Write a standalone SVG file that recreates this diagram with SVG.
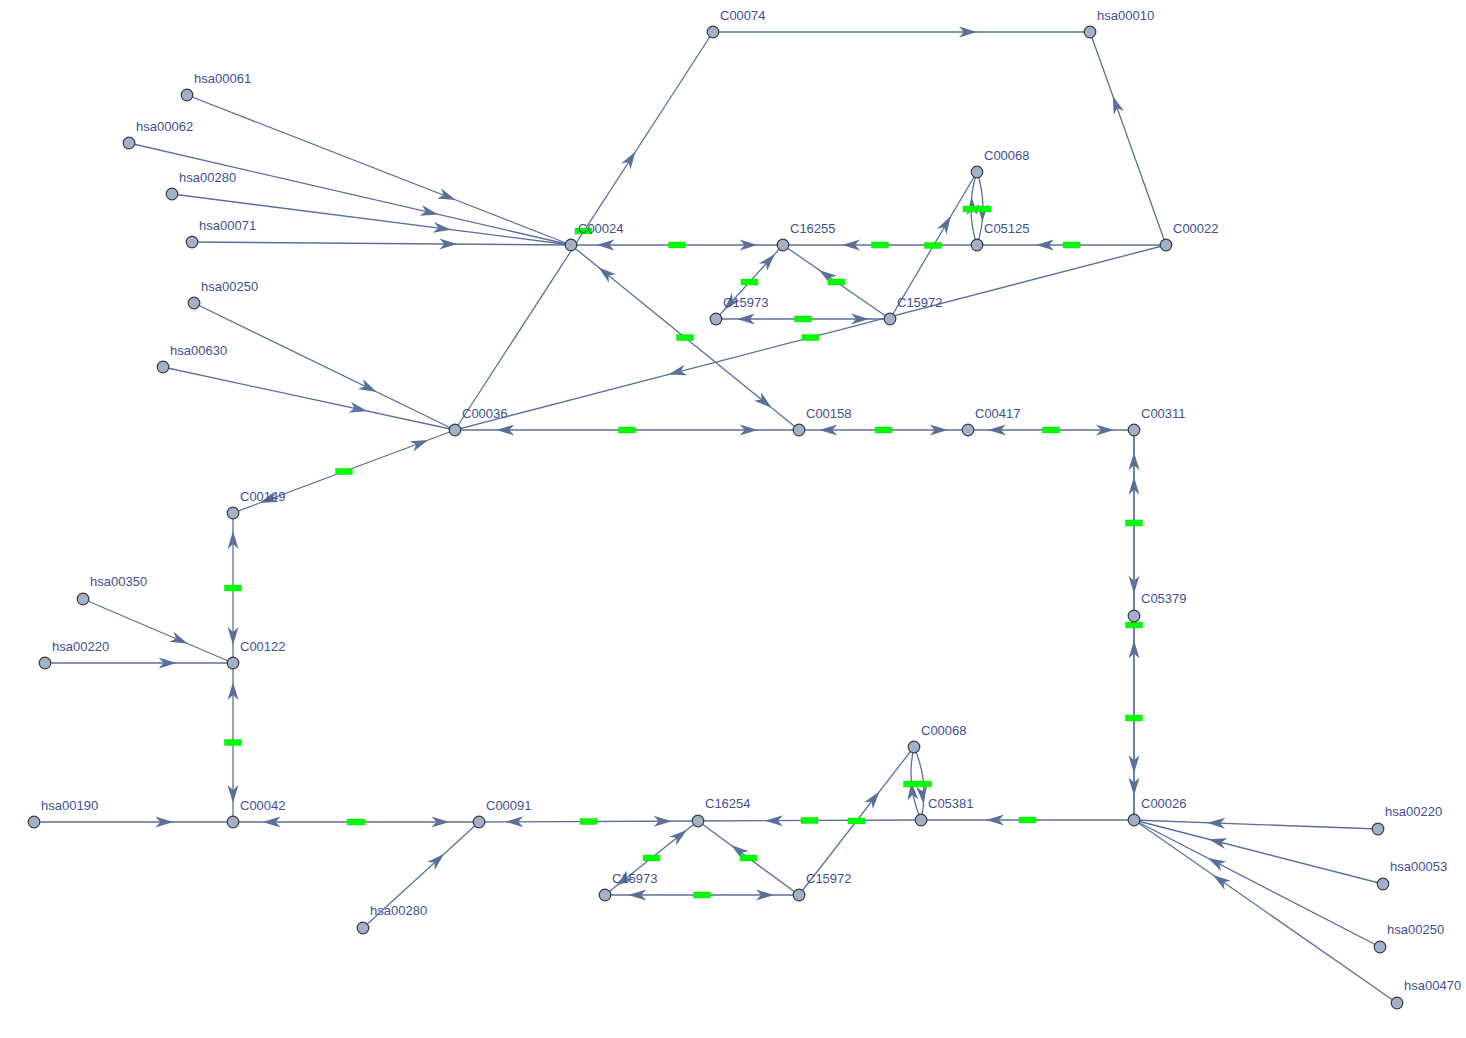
<svg xmlns="http://www.w3.org/2000/svg" xmlns:xlink="http://www.w3.org/1999/xlink" width="1466" height="1038" viewBox="0 0 1466 1038">
<style>
.e{fill:none;stroke:#5b7099;stroke-width:1.3}
.ah{fill:#5b7099;stroke:none}
.g{fill:#00ff00;stroke:#22cc22;stroke-width:0.4}
.n circle{fill:#a3b1c8;stroke:#3a3a3a;stroke-width:1.2}
.n text{font-family:"Liberation Sans",Arial,sans-serif;font-size:13px;fill:#434f91}
</style>
<defs>
<path id="ah" class="ah" d="M0,0 L-18,-5.5 L-13,0 L-18,5.5 Z"/>
</defs>
<rect width="1466" height="1038" fill="#ffffff"/>
<g id="connectors">
<path class="e" d="M187,95 L571,245"/>
<path class="e" d="M129,143 L571,245"/>
<path class="e" d="M172,194 L571,245"/>
<path class="e" d="M192,242 L571,245"/>
<path class="e" d="M194,303 L455,430"/>
<path class="e" d="M163,367 L455,430"/>
<path class="e" d="M455,430 L713,32"/>
<path class="e" d="M713,32 L1090,32"/>
<path class="e" d="M1166,245 L1090,32"/>
<path class="e" d="M1166,245 L977,245"/>
<path class="e" d="M977,245 L783,245"/>
<path class="e" d="M890,319 L977,172"/>
<path class="e" d="M890,319 L783,245"/>
<path class="e" d="M1166,245 L455,430"/>
<path class="e" d="M83,599 L233,663"/>
<path class="e" d="M45,663 L233,663"/>
<path class="e" d="M34,822 L233,822"/>
<path class="e" d="M363,928 L479,822"/>
<path class="e" d="M921,820 L698,821"/>
<path class="e" d="M799,895 L914,747"/>
<path class="e" d="M799,895 L698,821"/>
<path class="e" d="M1134,820 L921,820"/>
<path class="e" d="M1378,829 L1134,820"/>
<path class="e" d="M1383,884 L1134,820"/>
<path class="e" d="M1380,947 L1134,820"/>
<path class="e" d="M1397,1003 L1134,820"/>
<path class="e" d="M571,245 L783,245"/>
<path class="e" d="M571,245 L799,430"/>
<path class="e" d="M716,319 L783,245"/>
<path class="e" d="M716,319 L890,319"/>
<path class="e" d="M455,430 L799,430"/>
<path class="e" d="M799,430 L968,430"/>
<path class="e" d="M968,430 L1134,430"/>
<path class="e" d="M1134,430 L1134,616"/>
<path class="e" d="M1134,430 L1134,820"/>
<path class="e" d="M1134,616 L1134,820"/>
<path class="e" d="M455,430 L233,513"/>
<path class="e" d="M233,513 L233,663"/>
<path class="e" d="M233,663 L233,822"/>
<path class="e" d="M233,822 L479,822"/>
<path class="e" d="M479,822 L698,821"/>
<path class="e" d="M605,895 L698,821"/>
<path class="e" d="M605,895 L799,895"/>
<path class="e" d="M977,245 Q965,208.5 977,172"/>
<path class="e" d="M977,172 Q989,208.5 977,245"/>
<path class="e" d="M921,820 Q905.5,784.6 914,747"/>
<path class="e" d="M914,747 Q929.5,782.4 921,820"/>
<use href="#ah" transform="translate(455.8,200) rotate(21.3)"/>
<use href="#ah" transform="translate(438.4,214.4) rotate(13)"/>
<use href="#ah" transform="translate(451.3,229.7) rotate(7.3)"/>
<use href="#ah" transform="translate(457.3,244.1) rotate(0.45)"/>
<use href="#ah" transform="translate(376.7,391.9) rotate(25.9)"/>
<use href="#ah" transform="translate(367.4,411.1) rotate(12.2)"/>
<use href="#ah" transform="translate(635.6,151.4) rotate(-57)"/>
<use href="#ah" transform="translate(976.9,32) rotate(0)"/>
<use href="#ah" transform="translate(1112.8,95.9) rotate(-109.6)"/>
<use href="#ah" transform="translate(1036,245) rotate(180)"/>
<use href="#ah" transform="translate(842,245) rotate(180)"/>
<use href="#ah" transform="translate(950.9,216.1) rotate(-59.4)"/>
<use href="#ah" transform="translate(819,270) rotate(-145.3)"/>
<use href="#ah" transform="translate(668.3,374.5) rotate(165.4)"/>
<use href="#ah" transform="translate(188,643.8) rotate(23.1)"/>
<use href="#ah" transform="translate(176.6,663) rotate(0)"/>
<use href="#ah" transform="translate(173.3,822) rotate(0)"/>
<use href="#ah" transform="translate(444.2,853.8) rotate(-42.4)"/>
<use href="#ah" transform="translate(764.9,820.7) rotate(180)"/>
<use href="#ah" transform="translate(879.5,791.4) rotate(-52.2)"/>
<use href="#ah" transform="translate(731,845) rotate(-143.8)"/>
<use href="#ah" transform="translate(986,820) rotate(180)"/>
<use href="#ah" transform="translate(1207.2,822.7) rotate(-177.9)"/>
<use href="#ah" transform="translate(1208.7,839.2) rotate(-165.6)"/>
<use href="#ah" transform="translate(1207.8,858.1) rotate(-152.7)"/>
<use href="#ah" transform="translate(1212.9,874.9) rotate(-145.2)"/>
<use href="#ah" transform="translate(757.6,245) rotate(0)"/>
<use href="#ah" transform="translate(596.4,245) rotate(180)"/>
<use href="#ah" transform="translate(771.6,407.8) rotate(39.1)"/>
<use href="#ah" transform="translate(598.4,267.2) rotate(-140.9)"/>
<use href="#ah" transform="translate(775,253.9) rotate(-47.8)"/>
<use href="#ah" transform="translate(724,310.1) rotate(132.2)"/>
<use href="#ah" transform="translate(869.1,319) rotate(0)"/>
<use href="#ah" transform="translate(736.9,319) rotate(180)"/>
<use href="#ah" transform="translate(757.7,430) rotate(0)"/>
<use href="#ah" transform="translate(496.3,430) rotate(180)"/>
<use href="#ah" transform="translate(947.7,430) rotate(0)"/>
<use href="#ah" transform="translate(819.3,430) rotate(180)"/>
<use href="#ah" transform="translate(1114,430) rotate(0)"/>
<use href="#ah" transform="translate(988,430) rotate(180)"/>
<use href="#ah" transform="translate(1134,593.7) rotate(90)"/>
<use href="#ah" transform="translate(1134,452.3) rotate(-90)"/>
<use href="#ah" transform="translate(1134,773.2) rotate(90)"/>
<use href="#ah" transform="translate(1134,476.8) rotate(-90)"/>
<use href="#ah" transform="translate(1134,795.5) rotate(90)"/>
<use href="#ah" transform="translate(1134,640.5) rotate(-90)"/>
<use href="#ah" transform="translate(259.6,503) rotate(159.5)"/>
<use href="#ah" transform="translate(428.4,440) rotate(-20.5)"/>
<use href="#ah" transform="translate(233,645) rotate(90)"/>
<use href="#ah" transform="translate(233,531) rotate(-90)"/>
<use href="#ah" transform="translate(233,803) rotate(90)"/>
<use href="#ah" transform="translate(233,682) rotate(-90)"/>
<use href="#ah" transform="translate(449.5,822) rotate(0)"/>
<use href="#ah" transform="translate(262.5,822) rotate(180)"/>
<use href="#ah" transform="translate(671.7,821.2) rotate(-0.3)"/>
<use href="#ah" transform="translate(505.3,821.8) rotate(179.7)"/>
<use href="#ah" transform="translate(686.8,829.9) rotate(-38.5)"/>
<use href="#ah" transform="translate(616.2,886.1) rotate(141.5)"/>
<use href="#ah" transform="translate(774,895) rotate(0)"/>
<use href="#ah" transform="translate(628.3,895) rotate(180)"/>
<use href="#ah" transform="translate(971.6,197) rotate(-92)"/>
<use href="#ah" transform="translate(982.2,222) rotate(92)"/>
<use href="#ah" transform="translate(911.3,782) rotate(-95)"/>
<use href="#ah" transform="translate(923.5,804) rotate(84)"/>
</g>
<g id="edge-labels">
<rect class="g" x="575" y="228" width="17" height="6"/>
<rect class="g" x="668.5" y="242" width="17" height="6"/>
<rect class="g" x="871.5" y="242" width="17" height="6"/>
<rect class="g" x="924.5" y="242.5" width="17" height="6"/>
<rect class="g" x="1063" y="242" width="17" height="6"/>
<rect class="g" x="676.5" y="334.5" width="17" height="6"/>
<rect class="g" x="741" y="279" width="17" height="6"/>
<rect class="g" x="828" y="279" width="17" height="6"/>
<rect class="g" x="794.5" y="316" width="17" height="6"/>
<rect class="g" x="802" y="334.5" width="17" height="6"/>
<rect class="g" x="618.5" y="427" width="17" height="6"/>
<rect class="g" x="875" y="427" width="17" height="6"/>
<rect class="g" x="1042.5" y="427" width="17" height="6"/>
<rect class="g" x="1125.5" y="520" width="17" height="6"/>
<rect class="g" x="1125.5" y="622" width="17" height="6"/>
<rect class="g" x="1125.5" y="715" width="17" height="6"/>
<rect class="g" x="335.5" y="468.5" width="17" height="6"/>
<rect class="g" x="224.5" y="585" width="17" height="6"/>
<rect class="g" x="224.5" y="739.5" width="17" height="6"/>
<rect class="g" x="347" y="819" width="18" height="6"/>
<rect class="g" x="580" y="818.5" width="17" height="6"/>
<rect class="g" x="801" y="817.5" width="17" height="6"/>
<rect class="g" x="848" y="818" width="17" height="6"/>
<rect class="g" x="1019" y="817" width="17" height="6"/>
<rect class="g" x="643" y="855" width="17" height="6"/>
<rect class="g" x="740" y="855" width="17" height="6"/>
<rect class="g" x="693.5" y="892" width="17" height="6"/>
<rect class="g" x="963" y="206" width="14" height="6"/>
<rect class="g" x="977" y="206" width="14" height="6"/>
<rect class="g" x="903.5" y="781" width="14" height="6"/>
<rect class="g" x="917.5" y="781" width="14" height="6"/>
</g>
<g id="n-C00074" class="n"><circle cx="713" cy="32" r="5.8"/><text x="720" y="20">C00074</text></g>
<g id="n-hsa00010" class="n"><circle cx="1090" cy="32" r="5.8"/><text x="1097" y="20">hsa00010</text></g>
<g id="n-hsa00061" class="n"><circle cx="187" cy="95" r="5.8"/><text x="194" y="83">hsa00061</text></g>
<g id="n-hsa00062" class="n"><circle cx="129" cy="143" r="5.8"/><text x="136" y="131">hsa00062</text></g>
<g id="n-hsa00280a" class="n"><circle cx="172" cy="194" r="5.8"/><text x="179" y="182">hsa00280</text></g>
<g id="n-hsa00071" class="n"><circle cx="192" cy="242" r="5.8"/><text x="199" y="230">hsa00071</text></g>
<g id="n-C00024" class="n"><circle cx="571" cy="245" r="5.8"/><text x="578" y="233">C00024</text></g>
<g id="n-C16255" class="n"><circle cx="783" cy="245" r="5.8"/><text x="790" y="233">C16255</text></g>
<g id="n-C00068a" class="n"><circle cx="977" cy="172" r="5.8"/><text x="984" y="160">C00068</text></g>
<g id="n-C05125" class="n"><circle cx="977" cy="245" r="5.8"/><text x="984" y="233">C05125</text></g>
<g id="n-C00022" class="n"><circle cx="1166" cy="245" r="5.8"/><text x="1173" y="233">C00022</text></g>
<g id="n-C15973a" class="n"><circle cx="716" cy="319" r="5.8"/><text x="723" y="307">C15973</text></g>
<g id="n-C15972a" class="n"><circle cx="890" cy="319" r="5.8"/><text x="897" y="307">C15972</text></g>
<g id="n-hsa00250a" class="n"><circle cx="194" cy="303" r="5.8"/><text x="201" y="291">hsa00250</text></g>
<g id="n-hsa00630" class="n"><circle cx="163" cy="367" r="5.8"/><text x="170" y="355">hsa00630</text></g>
<g id="n-C00036" class="n"><circle cx="455" cy="430" r="5.8"/><text x="462" y="418">C00036</text></g>
<g id="n-C00158" class="n"><circle cx="799" cy="430" r="5.8"/><text x="806" y="418">C00158</text></g>
<g id="n-C00417" class="n"><circle cx="968" cy="430" r="5.8"/><text x="975" y="418">C00417</text></g>
<g id="n-C00311" class="n"><circle cx="1134" cy="430" r="5.8"/><text x="1141" y="418">C00311</text></g>
<g id="n-C00149" class="n"><circle cx="233" cy="513" r="5.8"/><text x="240" y="501">C00149</text></g>
<g id="n-hsa00350" class="n"><circle cx="83" cy="599" r="5.8"/><text x="90" y="586">hsa00350</text></g>
<g id="n-C05379" class="n"><circle cx="1134" cy="616" r="5.8"/><text x="1141" y="603">C05379</text></g>
<g id="n-hsa00220a" class="n"><circle cx="45" cy="663" r="5.8"/><text x="52" y="651">hsa00220</text></g>
<g id="n-C00122" class="n"><circle cx="233" cy="663" r="5.8"/><text x="240" y="651">C00122</text></g>
<g id="n-C00068b" class="n"><circle cx="914" cy="747" r="5.8"/><text x="921" y="735">C00068</text></g>
<g id="n-hsa00190" class="n"><circle cx="34" cy="822" r="5.8"/><text x="41" y="810">hsa00190</text></g>
<g id="n-C00042" class="n"><circle cx="233" cy="822" r="5.8"/><text x="240" y="810">C00042</text></g>
<g id="n-C00091" class="n"><circle cx="479" cy="822" r="5.8"/><text x="486" y="810">C00091</text></g>
<g id="n-C16254" class="n"><circle cx="698" cy="821" r="5.8"/><text x="705" y="808">C16254</text></g>
<g id="n-C05381" class="n"><circle cx="921" cy="820" r="5.8"/><text x="928" y="808">C05381</text></g>
<g id="n-C00026" class="n"><circle cx="1134" cy="820" r="5.8"/><text x="1141" y="808">C00026</text></g>
<g id="n-hsa00220b" class="n"><circle cx="1378" cy="829" r="5.8"/><text x="1385" y="816">hsa00220</text></g>
<g id="n-hsa00053" class="n"><circle cx="1383" cy="884" r="5.8"/><text x="1390" y="871">hsa00053</text></g>
<g id="n-C15973b" class="n"><circle cx="605" cy="895" r="5.8"/><text x="612" y="883">C15973</text></g>
<g id="n-C15972b" class="n"><circle cx="799" cy="895" r="5.8"/><text x="806" y="883">C15972</text></g>
<g id="n-hsa00280b" class="n"><circle cx="363" cy="928" r="5.8"/><text x="370" y="915">hsa00280</text></g>
<g id="n-hsa00250b" class="n"><circle cx="1380" cy="947" r="5.8"/><text x="1387" y="934">hsa00250</text></g>
<g id="n-hsa00470" class="n"><circle cx="1397" cy="1003" r="5.8"/><text x="1404" y="990">hsa00470</text></g>
</svg>
